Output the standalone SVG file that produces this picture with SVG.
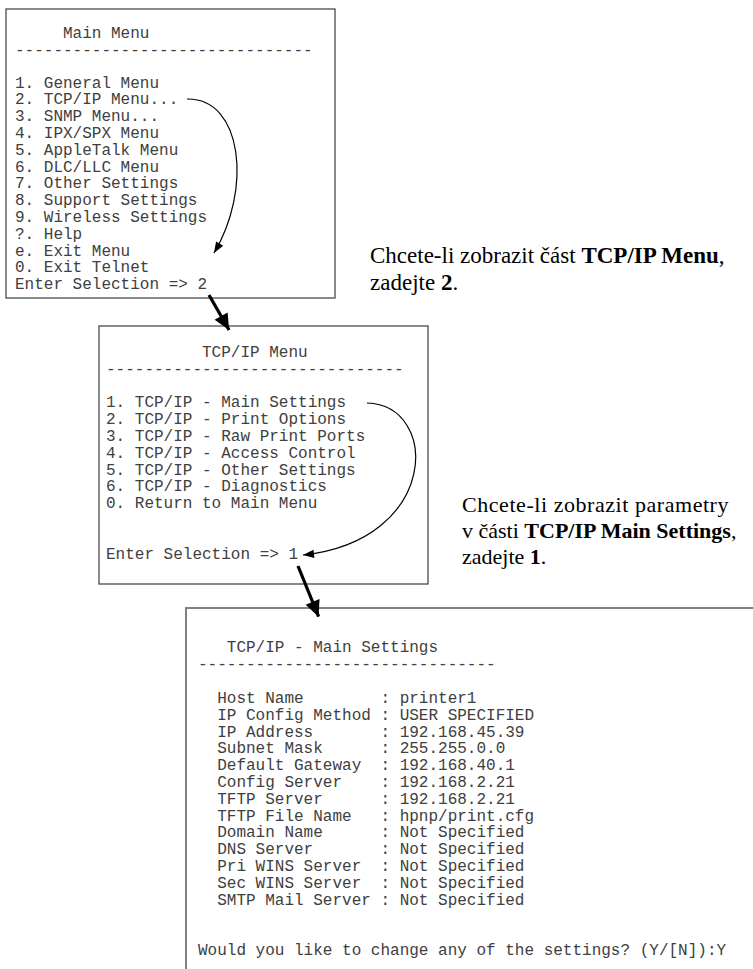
<svg xmlns="http://www.w3.org/2000/svg" width="753" height="969" viewBox="0 0 753 969" xml:space="preserve">
<style>
.mono{font-family:"Liberation Mono","Courier New",monospace;font-size:16px;fill:#404040;white-space:pre}
.serif{font-family:"Liberation Serif","Times New Roman",serif;font-size:23px;fill:#000}
.serif2{font-family:"Liberation Serif","Times New Roman",serif;font-size:22px;fill:#000}
.b{font-weight:bold}
.box{fill:#fff;stroke:#4a4a4a;stroke-width:1.3}
.box3{fill:none;stroke:#808080;stroke-width:2}
.curve{fill:none;stroke:#000;stroke-width:1.2}
.thick{fill:none;stroke:#000;stroke-width:3.2}
</style>
<defs>
<marker id="headS" markerUnits="userSpaceOnUse" markerWidth="14" markerHeight="10" refX="11" refY="0" viewBox="0 -5 14 10" orient="auto" overflow="visible">
<path d="M0,-4.2 L11,0 L0,4.2 z" fill="#000"/>
</marker>
<marker id="headL" markerUnits="userSpaceOnUse" markerWidth="20" markerHeight="16" refX="8" refY="0" viewBox="0 -8 20 16" orient="auto" overflow="visible">
<path d="M-8,-7.5 L8,0 L-8,7.5 z" fill="#000"/>
</marker>
</defs>
<rect width="753" height="969" fill="#fff"/>

<g id="main-menu">
<rect class="box" x="6" y="9" width="329" height="289"/>
<text class="mono" x="15" y="38">     Main Menu</text>
<text class="mono" x="15" y="54.8">-------------------------------</text>
<text class="mono" x="15" y="87.5">1. General Menu</text>
<text class="mono" x="15" y="104.3">2. TCP/IP Menu...</text>
<text class="mono" x="15" y="121.1">3. SNMP Menu...</text>
<text class="mono" x="15" y="137.9">4. IPX/SPX Menu</text>
<text class="mono" x="15" y="154.7">5. AppleTalk Menu</text>
<text class="mono" x="15" y="171.5">6. DLC/LLC Menu</text>
<text class="mono" x="15" y="188.3">7. Other Settings</text>
<text class="mono" x="15" y="205.1">8. Support Settings</text>
<text class="mono" x="15" y="221.9">9. Wireless Settings</text>
<text class="mono" x="15" y="238.7">?. Help</text>
<text class="mono" x="15" y="255.5">e. Exit Menu</text>
<text class="mono" x="15" y="272.3">0. Exit Telnet</text>
<text class="mono" x="15" y="289.1">Enter Selection =&gt; 2</text>
</g>

<g id="tcpip-menu">
<rect class="box" x="99" y="326" width="329" height="258"/>
<text class="mono" x="106" y="357">          TCP/IP Menu</text>
<text class="mono" x="106" y="373.8">-------------------------------</text>
<text class="mono" x="106" y="407.4">1. TCP/IP - Main Settings</text>
<text class="mono" x="106" y="424.2">2. TCP/IP - Print Options</text>
<text class="mono" x="106" y="441">3. TCP/IP - Raw Print Ports</text>
<text class="mono" x="106" y="457.8">4. TCP/IP - Access Control</text>
<text class="mono" x="106" y="474.6">5. TCP/IP - Other Settings</text>
<text class="mono" x="106" y="491.4">6. TCP/IP - Diagnostics</text>
<text class="mono" x="106" y="508.2">0. Return to Main Menu</text>
<text class="mono" x="106" y="558.6">Enter Selection =&gt; 1</text>
</g>

<g id="main-settings">
<path class="box3" d="M186,969 V608 H753"/>
<text class="mono" x="198" y="652">   TCP/IP - Main Settings</text>
<text class="mono" x="198" y="668.8">-------------------------------</text>
<text class="mono" x="198" y="703">  Host Name        : printer1</text>
<text class="mono" x="198" y="719.8">  IP Config Method : USER SPECIFIED</text>
<text class="mono" x="198" y="736.6">  IP Address       : 192.168.45.39</text>
<text class="mono" x="198" y="753.4">  Subnet Mask      : 255.255.0.0</text>
<text class="mono" x="198" y="770.2">  Default Gateway  : 192.168.40.1</text>
<text class="mono" x="198" y="787">  Config Server    : 192.168.2.21</text>
<text class="mono" x="198" y="803.8">  TFTP Server      : 192.168.2.21</text>
<text class="mono" x="198" y="820.6">  TFTP File Name   : hpnp/print.cfg</text>
<text class="mono" x="198" y="837.4">  Domain Name      : Not Specified</text>
<text class="mono" x="198" y="854.2">  DNS Server       : Not Specified</text>
<text class="mono" x="198" y="871">  Pri WINS Server  : Not Specified</text>
<text class="mono" x="198" y="887.8">  Sec WINS Server  : Not Specified</text>
<text class="mono" x="198" y="904.6">  SMTP Mail Server : Not Specified</text>
<text class="mono" x="198" y="955">Would you like to change any of the settings? (Y/[N]):Y</text>
</g>

<g id="note-tcpip-menu">
<text class="serif" x="370" y="263">Chcete-li zobrazit část <tspan class="b">TCP/IP Menu</tspan>,</text>
<text class="serif" x="370" y="290">zadejte <tspan class="b">2</tspan>.</text>
</g>

<g id="note-main-settings">
<text class="serif2" x="462" y="512" letter-spacing="0.55">Chcete-li zobrazit parametry</text>
<text class="serif2" x="462" y="538">v části <tspan class="b">TCP/IP Main Settings</tspan>,</text>
<text class="serif2" x="462" y="564">zadejte <tspan class="b">1</tspan>.</text>
</g>

<g id="connectors">
<path class="curve" d="M187,99 C243,98 252,190 214,253" marker-end="url(#headS)"/>
<path class="thick" d="M209,295 L229.1,330" marker-end="url(#headL)"/>
<path class="curve" d="M367,403 C440,405 440,540 303,555" marker-end="url(#headS)"/>
<path class="thick" d="M298,566 L318.6,616.7" marker-end="url(#headL)"/>
</g>
</svg>
